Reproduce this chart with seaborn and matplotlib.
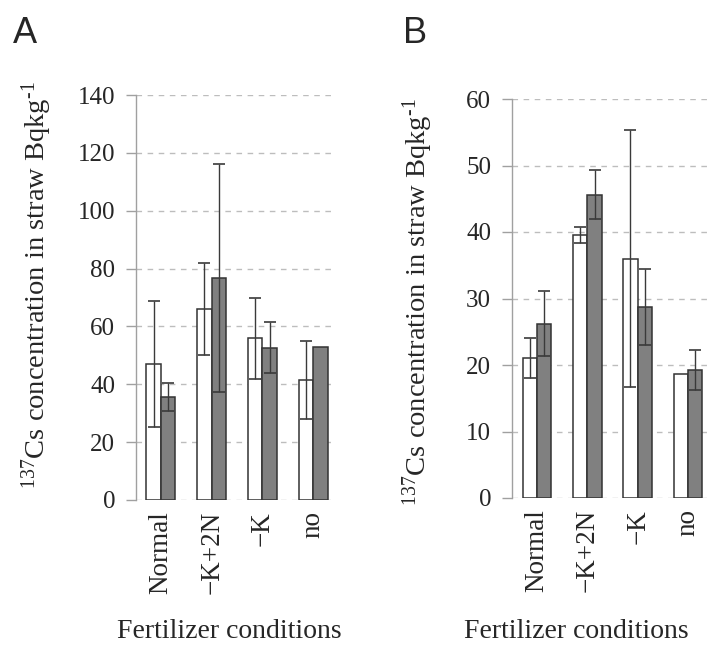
import numpy as np
import pandas as pd
import matplotlib
matplotlib.use("Agg")
import matplotlib.pyplot as plt
import seaborn as sns

conditions = ["Normal", "\u2212K+2N", "\u2212K", "no"]
series = ["Series 1", "Series 2"]

a_white = [47.0, 66.0, 56.0, 41.5]
a_white_err = [21.7, 16.0, 14.0, 13.5]
a_gray = [35.6, 76.7, 52.6, 53.0]
a_gray_err = [4.8, 39.4, 8.8, np.nan]

b_white = [21.1, 39.5, 36.0, 18.7]
b_white_err = [3.0, 1.2, 19.3, np.nan]
b_gray = [26.2, 45.6, 28.7, 19.3]
b_gray_err = [4.9, 3.7, 5.7, 3.0]

a_ticks = [0, 20, 40, 60, 80, 100, 120, 140]
b_ticks = [0, 10, 20, 30, 40, 50, 60]

ylabel = "$^{137}$Cs concentration in straw Bqkg$^{\\text{-}1}$"
xlabel = "Fertilizer conditions"

sns.set_theme(style="white")
plt.rcParams["font.family"] = ["Liberation Serif", "DejaVu Serif"]
plt.rcParams["mathtext.fontset"] = "custom"
plt.rcParams["mathtext.rm"] = "Liberation Serif"
plt.rcParams["mathtext.it"] = "Liberation Serif:italic"

fig = plt.figure(figsize=(7.07, 6.51), dpi=100)
axA = fig.add_axes([136 / 707, 151 / 651, 199 / 707, 405 / 651])
axB = fig.add_axes([512 / 707, 153 / 651, 195 / 707, 399 / 651])


def make_df(white, gray):
    return pd.DataFrame({
        "condition": conditions * 2,
        "series": [series[0]] * 4 + [series[1]] * 4,
        "value": list(white) + list(gray),
    })


def draw(ax, white, werr, gray, gerr, ticks, xlim, xlab_xy, ylab_xy):
    df = make_df(white, gray)
    sns.barplot(data=df, x="condition", y="value", hue="series",
                order=conditions, hue_order=series,
                palette=["white", "#808080"], edgecolor="#333333",
                linewidth=1.1, width=0.57, errorbar=None, legend=False,
                ax=ax, zorder=3)
    for cont, errs in zip(ax.containers, [werr, gerr]):
        xs = [p.get_x() + p.get_width() / 2 for p in cont]
        ys = [p.get_height() for p in cont]
        ax.errorbar(xs, ys, yerr=errs, fmt="none", ecolor="#3a3a3a",
                    elinewidth=1.0, capsize=4.5, capthick=1.2, zorder=4)
    ax.set_ylim(ticks[0], ticks[-1])
    ax.set_xlim(*xlim)
    ax.set_yticks(ticks)
    ax.yaxis.grid(True, linestyle=(0, (4, 4)), color="#bdbdbd", linewidth=1.0)
    ax.set_axisbelow(True)
    for s in ["top", "right", "bottom"]:
        ax.spines[s].set_visible(False)
    ax.spines["left"].set_color("#a0a0a0")
    ax.spines["left"].set_linewidth(1.0)
    ax.tick_params(axis="y", which="major", direction="out", length=7,
                   color="#a0a0a0", width=1.0, labelsize=18, pad=8,
                   left=True)
    ax.tick_params(axis="x", length=0, labelsize=19.5, pad=8,
                   labelrotation=90)
    ax.set_xlabel(xlabel, fontsize=20)
    ax.xaxis.set_label_coords(*xlab_xy)
    ax.set_ylabel(ylabel, fontsize=20.5, va="center")
    ax.yaxis.set_label_coords(*ylab_xy)


draw(axA, a_white, a_white_err, a_gray, a_gray_err, a_ticks,
     (-0.49, 3.43), (0.47, -0.294), (-0.50, 0.53))
draw(axB, b_white, b_white_err, b_gray, b_gray_err, b_ticks,
     (-0.50, 3.38), (0.33, -0.303), (-0.485, 0.49))

fig.text(13 / 707, 1 - 43 / 651, "A", fontsize=26, family="Liberation Sans",
         va="baseline", ha="left")
fig.text(403 / 707, 1 - 43 / 651, "B", fontsize=26, family="Liberation Sans",
         va="baseline", ha="left")

fig.savefig("out.png", dpi=100)
